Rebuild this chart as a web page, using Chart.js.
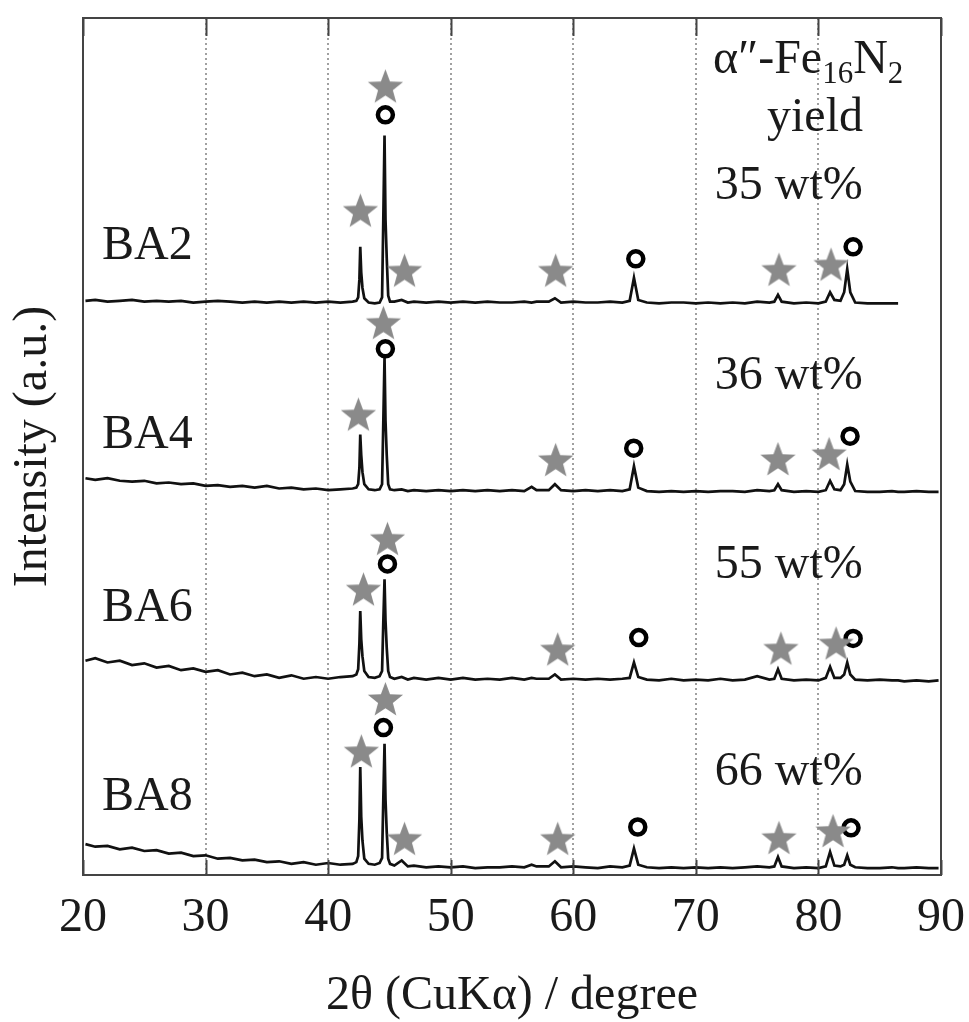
<!DOCTYPE html>
<html>
<head>
<meta charset="utf-8">
<script src="https://cdn.jsdelivr.net/npm/chart.js@4/dist/chart.umd.min.js"></script>
<style>
  html, body { margin: 0; padding: 0; background: #fff; }
  canvas { display: block; }
</style>
</head>
<body>
<canvas id="xrd" width="969" height="1022"></canvas>
<script>
// 2theta positions shared by all four patterns
const twoTheta = [
  20.2, 21, 22, 23, 24, 25, 26, 27, 28, 29, 30, 31, 32, 33, 34, 35, 36, 37, 38, 39, 40, 41,
  42.0, 42.3, 42.45, 42.55, 42.62, 42.7, 42.8, 42.95, 43.3, 43.8, 44.2, 44.4, 44.5, 44.6, 44.68, 44.78, 44.9, 45.05, 45.4,
  46.0, 46.5, 47, 48, 49, 50, 51, 52, 53, 54, 55, 56,
  56.6, 57, 58, 58.5, 59, 60, 61, 62, 63, 64,
  64.6, 64.95, 65.3,
  66, 67, 68, 69, 70, 71, 72, 73, 74, 75, 76,
  76.4, 76.7, 77.0,
  78, 79, 80,
  80.6, 80.95, 81.3, 81.8, 82.1, 82.35, 82.6, 83.0,
  84, 85, 86, 86.5, 87, 88, 89, 89.8
];

// intensities as plotted (already stacked), a.u.
const ba2 = [
  67.0, 67.1, 66.9, 67.0, 67.1, 66.9, 67.0, 66.9, 67.0, 66.8, 66.9, 67.0, 66.9, 66.8, 66.9, 66.8, 66.9, 66.8, 66.9, 66.8, 66.9, 66.8,
  66.9, 67.0, 67.4, 69.5, 73.3, 70.3, 68.5, 67.3, 66.8, 66.7, 66.8, 67.4, 76.5, 86.3, 76.5, 72.0, 67.6, 66.9, 66.9,
  67.1, 66.8, 66.9, 66.8, 66.9, 66.8, 66.9, 66.8, 66.9, 66.8, 66.8, 66.9,
  66.8, 66.9, 66.9, 67.3, 66.8, 66.9, 66.8, 66.8, 66.9, 66.8,
  67.0, 69.7, 67.1,
  66.8, 66.7, 66.8, 66.8, 66.7, 66.8, 66.7, 66.8, 66.7, 66.9, 66.8,
  66.9, 67.7, 66.9,
  66.7, 66.8, 66.7,
  66.9, 68.0, 67.1, 67.0, 68.0, 70.7, 68.0, 66.8,
  66.7, 66.7, 66.7, 66.7, null, null, null, null
];
const ba4 = [
  46.3, 46.1, 46.3, 46.0, 45.9, 46.0, 45.7, 45.8, 45.6, 45.7, 45.4, 45.5, 45.3, 45.4, 45.2, 45.4, 45.1, 45.2, 45.0, 45.1, 44.9, 45.0,
  45.1, 45.2, 45.6, 47.5, 51.4, 49.0, 47.0, 45.6, 45.0, 44.9, 45.0, 45.6, 52.8, 60.4, 53.0, 49.0, 45.6, 45.0, 44.9,
  45.0, 44.8, 44.9, 44.8, 44.9, 44.8, 44.9, 44.8, 44.9, 44.8, 44.9, 44.8,
  45.3, 44.9, 44.9, 45.6, 44.9, 44.8, 44.9, 44.8, 44.9, 44.8,
  45.0, 47.7, 45.2,
  44.8, 44.7, 44.8, 44.7, 44.8, 44.7, 44.8, 44.8, 44.7, 44.9, 44.8,
  44.9, 45.6, 44.9,
  44.7, 44.8, 44.7,
  44.9, 46.0, 45.0, 44.9, 45.6, 47.9, 45.9, 44.8,
  44.7, 44.7, 44.8, 44.7, 44.7, 44.8, 44.7, 44.7
];
const ba6 = [
  25.0, 25.3, 24.8, 25.0, 24.5, 24.7, 24.2, 24.4, 23.9, 24.1, 23.7, 23.9, 23.4, 23.6, 23.2, 23.4, 23.0, 23.3, 22.9, 23.1, 22.9, 23.1,
  23.2, 23.4, 24.0, 27.0, 30.8, 27.5, 25.5, 23.8, 23.1, 23.0, 23.2, 23.8, 29.5, 34.5, 29.7, 26.5, 23.8, 23.1, 22.9,
  23.1, 22.8, 23.0, 22.8, 23.0, 22.8, 23.0, 22.8, 22.9, 22.8, 23.0, 22.8,
  23.0, 22.9, 22.9, 23.4, 22.8, 22.9, 22.8, 22.9, 22.8, 22.9,
  23.0, 24.8, 23.1,
  22.8, 22.7, 22.9, 22.7, 22.8, 22.7, 22.9, 22.7, 22.8, 23.2, 22.8,
  22.9, 24.0, 22.9,
  22.7, 22.8, 22.7,
  23.0, 24.3, 23.0, 23.0, 23.4, 24.8, 23.4, 22.8,
  22.7, 22.8, 22.7, 22.7, 22.6, 22.7, 22.6, 22.7
];
const ba8 = [
  3.6, 3.3, 3.4, 3.0, 3.2, 2.8, 2.9, 2.5, 2.6, 2.2, 2.3, 1.9, 2.0, 1.7, 1.8, 1.5, 1.6, 1.3, 1.5, 1.2, 1.4, 1.2,
  1.3, 1.5, 2.2, 6.5, 12.6, 6.8, 4.0, 1.9, 1.3, 1.2, 1.4, 2.0, 8.8, 15.3, 8.8, 5.0, 1.9, 1.3, 1.1,
  1.7, 1.0, 1.1, 0.9, 1.0, 0.9, 1.0, 0.8, 0.9, 0.9, 1.0, 0.9,
  1.2, 1.0, 1.0, 1.6, 0.9, 1.0, 0.9, 0.8, 1.0, 0.9,
  1.1, 3.1, 1.2,
  0.9, 0.8, 0.9, 0.8, 0.9, 0.8, 0.9, 0.8, 0.9, 1.0, 0.9,
  1.0, 2.1, 1.0,
  0.8, 0.9, 0.8,
  1.0, 2.7, 1.1, 1.0, 1.2, 2.3, 1.2, 0.9,
  0.8, 0.8, 0.9, 0.8, 0.8, 0.9, 0.8, 0.8
];

// peak markers: stars = alpha''-Fe16N2, rings = alpha-Fe
const starX = [44.67, 42.63, 46.23, 58.56, 76.78, 81.03,
               44.51, 42.47, 58.56, 76.70, 80.87,
               44.84, 42.88, 58.73, 76.94, 81.44,
               44.67, 42.71, 46.23, 58.73, 76.78, 81.19];
const starY = [92.1, 77.6, 70.6, 70.6, 70.7, 71.3,
               64.5, 53.8, 48.5, 48.6, 49.2,
               39.3, 33.4, 26.4, 26.5, 27.1,
               20.6, 14.5, 4.3, 4.3, 4.4, 5.2];
const ringX = [44.67, 65.10, 82.83,
               44.67, 64.93, 82.58,
               44.84, 65.34, 82.83,
               44.51, 65.26, 82.66];
const ringY = [88.7, 71.9, 73.3,
               61.4, 49.8, 51.2,
               36.3, 27.7, 27.6,
               17.2, 5.6, 5.5];

const sampleNames = ['BA2', 'BA4', 'BA6', 'BA8'];
const yieldLabels = ['35 wt%', '36 wt%', '55 wt%', '66 wt%'];
const xTicks = [20, 30, 40, 50, 60, 70, 80, 90];

// where the text notes sit, in data units
const nameX = 21.55;
const nameY = [71.86, 49.77, 29.65, 7.56];
const yieldX = 71.55;
const yieldY = [78.84, 56.74, 34.65, 10.47];

const SERIF = '"Liberation Serif", "Times New Roman", serif';

function makeStar(size, color) {
    const c = document.createElement('canvas');
    c.width = c.height = size;
    const g = c.getContext('2d');
    const r1 = size / 2 - 1, r2 = r1 * 0.42;
    g.beginPath();
    for (let i = 0; i < 10; i++) {
        const r = i % 2 ? r2 : r1;
        const a = -Math.PI / 2 + i * Math.PI / 5;
        g.lineTo(size / 2 + r * Math.cos(a), size / 2 + 2 + r * Math.sin(a));
    }
    g.closePath();
    g.fillStyle = color;
    g.fill();
    return c;
}

const pattern = (ys) => twoTheta.map((x, i) => ({x, y: ys[i]}));
const traceStyle = {
    borderColor: '#111',
    borderWidth: 2.7,
    pointRadius: 0,
    tension: 0,
    spanGaps: false,
    order: 3
};

const framePlugin = {
    id: 'frame',
    afterDraw(chart) {
        const {ctx, chartArea: a, scales: {x, y}} = chart;
        ctx.save();
        ctx.strokeStyle = '#444';
        ctx.lineWidth = 2;
        ctx.strokeRect(a.left, a.top, a.right - a.left, a.bottom - a.top);
        // inward ticks on top and bottom
        xTicks.forEach(v => {
            const px = Math.round(x.getPixelForValue(v)) + 0.5;
            ctx.beginPath();
            ctx.moveTo(px, a.top); ctx.lineTo(px, a.top + 18);
            ctx.moveTo(px, a.bottom); ctx.lineTo(px, a.bottom - 15);
            ctx.stroke();
        });

        ctx.fillStyle = '#1a1a1a';
        ctx.textBaseline = 'alphabetic';
        ctx.font = '48px ' + SERIF;
        ctx.textAlign = 'left';
        sampleNames.forEach((s, i) => ctx.fillText(s, x.getPixelForValue(nameX), y.getPixelForValue(nameY[i])));
        yieldLabels.forEach((s, i) => ctx.fillText(s, x.getPixelForValue(yieldX), y.getPixelForValue(yieldY[i])));

        // α″-Fe16N2 / yield header
        let px = x.getPixelForValue(71.4);
        const py = y.getPixelForValue(93.6);
        [['α″-Fe', 48, 0], ['16', 31, 10], ['N', 48, 0], ['2', 31, 10]].forEach(([t, size, dy]) => {
            ctx.font = size + 'px ' + SERIF;
            ctx.fillText(t, px, py + dy);
            px += ctx.measureText(t).width;
        });
        ctx.font = '48px ' + SERIF;
        ctx.textAlign = 'center';
        ctx.fillText('yield', x.getPixelForValue(79.72), y.getPixelForValue(86.86));
        ctx.restore();
    }
};

const starImg = makeStar(39, '#8a8a8a');

new Chart(document.getElementById('xrd'), {
    type: 'line',
    data: {
        datasets: [
            {
                label: 'alpha\'\'-Fe16N2',
                type: 'scatter',
                data: starX.map((x, i) => ({x, y: starY[i]})),
                pointStyle: starImg,
                pointRadius: 17,
                order: 1
            },
            {
                label: 'alpha-Fe',
                type: 'scatter',
                data: ringX.map((x, i) => ({x, y: ringY[i]})),
                pointStyle: 'circle',
                pointRadius: 7.5,
                borderWidth: 4.5,
                borderColor: '#000',
                backgroundColor: '#fff',
                order: 2
            },
            {label: 'BA2', data: pattern(ba2), ...traceStyle},
            {label: 'BA4', data: pattern(ba4), ...traceStyle},
            {label: 'BA6', data: pattern(ba6), ...traceStyle},
            {label: 'BA8', data: pattern(ba8), ...traceStyle}
        ]
    },
    options: {
        responsive: false,
        animation: false,
        events: [],
        layout: {padding: {top: 15, right: 28, left: 0, bottom: 0}},
        plugins: {legend: {display: false}, tooltip: {enabled: false}},
        scales: {
            x: {
                type: 'linear',
                min: 20,
                max: 90,
                afterFit: s => { s.height = 147; s.paddingLeft = 0; s.paddingRight = 0; },
                afterBuildTicks: s => { s.ticks = xTicks.map(v => ({value: v})); },
                ticks: {
                    padding: 15,
                    color: '#1a1a1a',
                    font: {family: SERIF, size: 48},
                    maxRotation: 0
                },
                grid: {
                    drawTicks: false,
                    lineWidth: 2,
                    color: c => (c.tick && (c.tick.value === 20 || c.tick.value === 90)) ? 'rgba(0,0,0,0)' : '#a0a0a0'
                },
                border: {display: false, dash: [2, 3]},
                title: {
                    display: true,
                    text: '2θ (CuKα) / degree',
                    color: '#1a1a1a',
                    font: {family: SERIF, size: 48},
                    padding: {top: 0, bottom: -3}
                }
            },
            y: {
                min: 0,
                max: 100,
                afterFit: s => { s.width = 83; s.paddingTop = 0; s.paddingBottom = 0; },
                ticks: {display: false},
                grid: {display: false},
                border: {display: false},
                title: {
                    display: true,
                    text: 'Intensity (a.u.)',
                    color: '#1a1a1a',
                    font: {family: SERIF, size: 48},
                    padding: {top: 5, bottom: 0}
                }
            }
        }
    },
    plugins: [framePlugin]
});
</script>
</body>
</html>
